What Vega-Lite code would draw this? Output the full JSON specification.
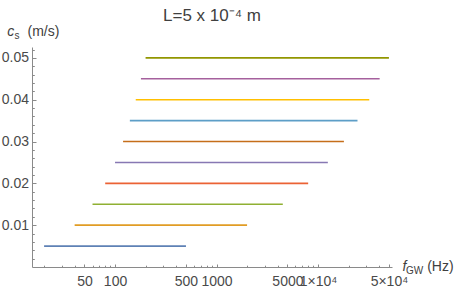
{
  "$schema": "https://vega.github.io/schema/vega-lite/v6.json",
  "width": 360,
  "height": 220,
  "autosize": {"type": "none"},
  "padding": {"left": 32, "top": 47, "right": 67, "bottom": 24},
  "background": "white",
  "title": {
    "text": "L=5 x 10⁻⁴ m",
    "font": "Liberation Sans",
    "fontSize": 17,
    "fontWeight": "normal",
    "color": "#404040",
    "anchor": "middle",
    "frame": "group",
    "baseline": "alphabetic",
    "offset": -13
  },
  "data": {
    "values": [
      {"cs": 0.005, "fmin": 20, "fmax": 500},
      {"cs": 0.01, "fmin": 40, "fmax": 2000},
      {"cs": 0.015, "fmin": 60, "fmax": 4500},
      {"cs": 0.02, "fmin": 80, "fmax": 8000},
      {"cs": 0.025, "fmin": 100, "fmax": 12500},
      {"cs": 0.03, "fmin": 120, "fmax": 18000},
      {"cs": 0.035, "fmin": 140, "fmax": 24500},
      {"cs": 0.04, "fmin": 160, "fmax": 32000},
      {"cs": 0.045, "fmin": 180, "fmax": 40500},
      {"cs": 0.05, "fmin": 200, "fmax": 50000}
    ]
  },
  "resolve": {"axis": {"x": "independent", "y": "independent"}},
  "layer": [
    {
      "mark": {"type": "rule", "strokeWidth": 1.6},
      "encoding": {
        "x": {
          "field": "fmin", "type": "quantitative",
          "scale": {"type": "log", "domain": [15.2, 53600], "nice": false, "zero": false},
          "axis": {
            "orient": "bottom",
            "values": [50, 100, 500, 1000, 5000, 10000, 50000],
            "labelExpr": "datum.value >= 10000 ? format(datum.value / 10000, 'd') + '×10⁴' : format(datum.value, 'd')",
            "labelOverlap": false,
            "labelFlush": false,
            "labelBound": false,
            "grid": false,
            "tickSize": -3,
            "labelPadding": 10,
            "title": "f",
            "titleFontStyle": "italic",
            "titleFontSize": 14,
            "titleAlign": "left",
            "titleBaseline": "alphabetic",
            "titleX": 370,
            "titleY": 3.5
          }
        },
        "x2": {"field": "fmax"},
        "y": {
          "field": "cs", "type": "quantitative",
          "scale": {"domain": [0, 0.0526], "nice": false},
          "axis": {
            "orient": "left",
            "values": [0.01, 0.02, 0.03, 0.04, 0.05],
            "format": ".2f",
            "grid": false,
            "tickSize": -4,
            "labelPadding": 7.5,
            "title": "(m/s)",
            "titleAngle": 0,
            "titleFontSize": 14,
            "titleAlign": "left",
            "titleBaseline": "alphabetic",
            "titleX": -5,
            "titleY": -11.5
          }
        },
        "color": {
          "field": "cs", "type": "nominal",
          "scale": {
            "domain": [0.005, 0.01, 0.015, 0.02, 0.025, 0.03, 0.035, 0.04, 0.045, 0.05],
            "range": ["#5E81B5", "#E19C24", "#8FB032", "#EB6235", "#8778B3", "#C56E1A", "#5D9EC7", "#FFBF00", "#A5609D", "#929600"]
          },
          "legend": null
        }
      }
    },
    {
      "mark": {"type": "rule", "opacity": 0},
      "encoding": {
        "x": {
          "field": "fmin", "type": "quantitative",
          "axis": {
            "orient": "bottom",
            "values": [20, 30, 40, 60, 70, 80, 90, 200, 300, 400, 600, 700, 800, 900, 2000, 3000, 4000, 6000, 7000, 8000, 9000, 20000, 30000, 40000],
            "labels": false,
            "domain": false,
            "grid": false,
            "tickSize": -1.8,
            "title": "GW",
            "titleFontSize": 10,
            "titleAlign": "left",
            "titleBaseline": "alphabetic",
            "titleX": 373.5,
            "titleY": 6
          }
        },
        "x2": {"field": "fmax"},
        "y": {
          "field": "cs", "type": "quantitative",
          "axis": {
            "orient": "left",
            "values": [0.002, 0.004, 0.006, 0.008, 0.012, 0.014, 0.016, 0.018, 0.022, 0.024, 0.026, 0.028, 0.032, 0.034, 0.036, 0.038, 0.042, 0.044, 0.046, 0.048, 0.052],
            "labels": false,
            "domain": false,
            "grid": false,
            "tickSize": -2.3,
            "title": "c",
            "titleFontStyle": "italic",
            "titleAngle": 0,
            "titleFontSize": 14,
            "titleAlign": "left",
            "titleBaseline": "alphabetic",
            "titleX": -25.3,
            "titleY": -11.5
          }
        }
      }
    },
    {
      "mark": {"type": "rule", "opacity": 0},
      "encoding": {
        "x": {
          "field": "fmin", "type": "quantitative",
          "axis": {
            "orient": "bottom",
            "values": [],
            "labels": false,
            "domain": false,
            "ticks": false,
            "grid": false,
            "title": "(Hz)",
            "titleFontSize": 14,
            "titleAlign": "left",
            "titleBaseline": "alphabetic",
            "titleX": 394.7,
            "titleY": 3.5
          }
        },
        "x2": {"field": "fmax"},
        "y": {
          "field": "cs", "type": "quantitative",
          "axis": {
            "orient": "left",
            "values": [],
            "labels": false,
            "domain": false,
            "ticks": false,
            "grid": false,
            "title": "s",
            "titleAngle": 0,
            "titleFontSize": 10,
            "titleAlign": "left",
            "titleBaseline": "alphabetic",
            "titleX": -18,
            "titleY": -8.5
          }
        }
      }
    }
  ],
  "config": {
    "view": {"stroke": null},
    "axis": {
      "labelFont": "Liberation Sans",
      "labelFontSize": 14,
      "labelColor": "#4a4a4a",
      "titleFont": "Liberation Sans",
      "titleFontWeight": "normal",
      "titleColor": "#404040",
      "domainColor": "#8a8a8a",
      "tickColor": "#8a8a8a",
      "domainWidth": 1,
      "tickWidth": 1
    }
  }
}
